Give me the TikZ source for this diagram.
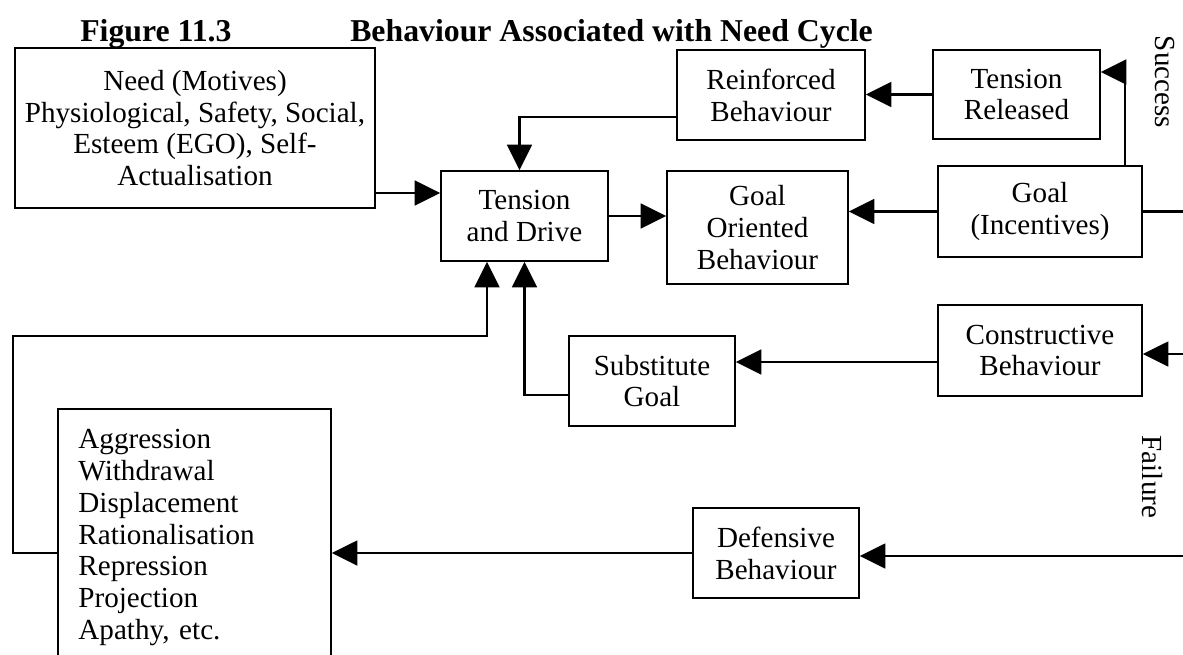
\documentclass[tikz,border=0pt]{standalone}
\usepackage{fontspec}
\setmainfont{Liberation Serif}
\usetikzlibrary{arrows.meta,calc,positioning}

\begin{document}
\begin{tikzpicture}[x=0.025cm,y=-0.025cm]
  \tikzstyle{box}=[rectangle,draw=black,line width=1.1pt,inner sep=2pt,align=center,font=\fontsize{20.7}{22.6}\selectfont]
  \tikzstyle{link}=[line width=1.7pt,-{Triangle[length=0.64cm,width=0.62cm]}]
  \tikzstyle{plain}=[line width=1.7pt]
  \tikzstyle{side}=[font=\fontsize{20.7}{23}\selectfont,rotate=-90,inner sep=0pt]
  \tikzstyle{heading}=[font=\fontsize{22.6}{27}\selectfont\bfseries,anchor=base west,inner sep=0pt]

  \useasboundingbox (0,0) rectangle (1183,654);

  \node[heading](fig) at (80,41){Figure 11.3};
  \node[heading](title) at (350,41){Behaviour Associated with Need Cycle};

  \node[box,minimum width=9cm,minimum height=4cm](need) at (195,128)
    {Need (Motives)\\Physiological, Safety, Social,\\Esteem (EGO), Self-\\Actualisation};
  \node[box,minimum width=4.7cm,minimum height=2.25cm](reinf) at (771,95){Reinforced\\Behaviour};
  \node[box,minimum width=4.175cm,minimum height=2.225cm](released) at (1016.5,94.5){Tension\\Released};
  \node[box,minimum width=4.175cm,minimum height=2.25cm](tension) at (524.5,216){Tension\\and Drive};
  \node[box,minimum width=4.525cm,minimum height=2.825cm](goalor) at (757.5,227.5){Goal\\Oriented\\Behaviour};
  \node[box,minimum width=5.1cm,minimum height=2.275cm](goal) at (1040,211.5){Goal\\(Incentives)};
  \node[box,minimum width=5.1cm,minimum height=2.275cm](constr) at (1040,350.5){Constructive\\Behaviour};
  \node[box,minimum width=4.15cm,minimum height=2.25cm](subst) at (652,381){Substitute\\Goal};
  \node[box,minimum width=4.15cm,minimum height=2.25cm](defens) at (776,553){Defensive\\Behaviour};
  \node[box,minimum width=6.825cm,minimum height=6.425cm,text width=5.8cm,inner xsep=0.5cm,align=left](aggr) at (194.5,537.5)
    {Aggression\\Withdrawal\\Displacement\\Rationalisation\\Repression\\Projection\\Apathy, etc.};

  \node[side](success) at (1165,82){Success};
  \node[side](failure) at (1152,477){Failure};

  % turning points and open ends
  \coordinate (needrow) at (0,193);
  \coordinate (reinfrow) at (0,117);
  \coordinate (substrow) at (0,362);
  \coordinate (backrow) at (0,395);
  \coordinate (looprow) at (13,336);
  \coordinate (turn) at (1125,72);
  \coordinate (succ) at (1183,213);
  \coordinate (constrin) at (1183,354);
  \coordinate (failin) at (1183,556);

  \path[link]
  (need.east |- needrow) edge (tension.west |- needrow)
  (tension.east) edge (goalor.west |- tension.east)
  (goal.west) edge (goalor.east |- goal.west)
  (released.west) edge (reinf.east |- released.west)
  (constrin) edge (constr.east |- constrin)
  (constr.west |- substrow) edge (subst.east |- substrow)
  (failin) edge (defens.east |- failin)
  (defens.west) edge (aggr.east |- defens.west);

  \draw[plain] (goal.east) -- (goal.east -| succ);
  \draw[link] (goal.north -| turn) -- (turn) -- (released.east |- turn);
  \draw[link] (reinf.west |- reinfrow) -| ($(tension.north)+(-5,0)$);
  \draw[link] (subst.west |- backrow) -| (tension.south);
  \draw[link] (aggr.west |- defens.west) -| (looprow) -| ($(tension.south)+(-37.5,0)$);
\end{tikzpicture}
\end{document}
